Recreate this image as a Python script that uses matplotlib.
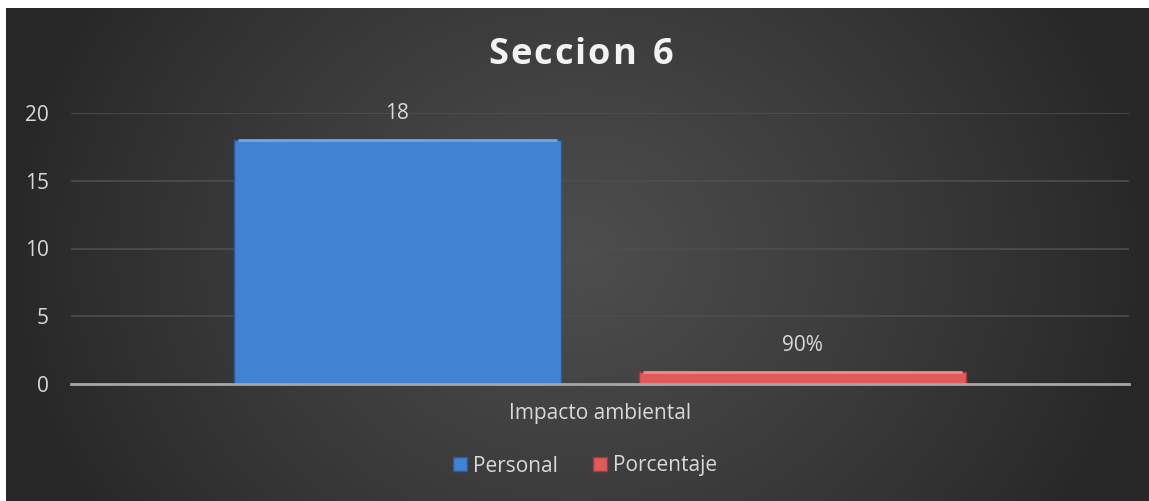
import matplotlib
matplotlib.use("Agg")
import matplotlib.pyplot as plt
import numpy as np

# datos del grafico
categorias = ["Impacto ambiental"]
series = ["Personal", "Porcentaje"]
personal = [18]
porcentaje = [0.9]
etiquetas_personal = ["18"]
etiquetas_porcentaje = ["90%"]
titulo = "Seccion 6"

plt.rcParams["font.family"] = ["Open Sans", "DejaVu Sans"]
TXT = "#d9d9d9"
FS = 15

fig = plt.figure(figsize=(11.49, 5.01), dpi=100, facecolor="white")

# fondo con degradado oscuro (centro mas claro)
bg = fig.add_axes([6 / 1149, 0, 1143 / 1149, 493 / 501])
xx, yy = np.meshgrid(np.linspace(-1, 1, 400), np.linspace(-1, 1, 200))
r = np.sqrt(xx ** 2 + (yy / 2.0) ** 2)
shade = np.clip(1 - r, 0, 1) ** 0.9
g = 0.155 + (0.305 - 0.155) * shade
bg.imshow(np.dstack([g, g, g]), aspect="auto", extent=[0, 1, 0, 1], interpolation="bilinear")
bg.axis("off")

ax = fig.add_axes([71 / 1149, (501 - 384) / 501, (1129 - 71) / 1149, (384 - 113) / 501])
ax.patch.set_alpha(0)

x = np.arange(len(categorias))
w = 0.309
off = 0.1915
b1 = ax.bar(x - off, personal, w, color="#4282d3", edgecolor="#2c5a96", linewidth=1.0,
            label=series[0], zorder=3)
b2 = ax.bar(x + off, porcentaje, w, color="#e05a5c", edgecolor="#a03a3c", linewidth=1.0,
            label=series[1], zorder=3)

# brillo superior de las barras
for bars, c in [(b1, "#6fa6ec"), (b2, "#f08a8a")]:
    for b in bars:
        ax.plot([b.get_x() + 0.004, b.get_x() + b.get_width() - 0.004],
                [b.get_height()] * 2, color=c, lw=2, zorder=4, solid_capstyle="butt")

for bars, labs in [(b1, etiquetas_personal), (b2, etiquetas_porcentaje)]:
    for b, t in zip(bars, labs):
        ax.annotate(t, (b.get_x() + b.get_width() / 2, b.get_height()),
                    xytext=(0, 19), textcoords="offset points", ha="center", va="center",
                    color=TXT, fontsize=FS)

ax.set_xlim(-0.5, 0.5)
ax.set_ylim(0, 20)
ax.set_yticks([0, 5, 10, 15, 20])
ax.set_xticks(x, categorias)
ax.tick_params(axis="y", length=0, pad=16, labelcolor=TXT, labelsize=FS)
ax.tick_params(axis="x", length=0, pad=14, labelcolor=TXT, labelsize=FS)
ax.grid(axis="y", color="#4e4e4e", lw=1.2, zorder=0)
for s in ["top", "right", "left"]:
    ax.spines[s].set_visible(False)
ax.spines["bottom"].set_color("#a6a6a6")
ax.spines["bottom"].set_linewidth(2)
ax.spines["bottom"].set_zorder(5)

# titulo con espaciado entre letras
renderer = fig.canvas.get_renderer()
props = dict(color="#f2f2f2", fontsize=26, fontweight="bold", va="center", ha="left")
espacio = 2.0
anchos = []
for ch in titulo:
    t = fig.text(0, 0, ch if ch != " " else "n", **props)
    anchos.append(t.get_window_extent(renderer).width * (0.55 if ch == " " else 1))
    t.remove()
total = sum(anchos) + espacio * (len(titulo) - 1)
x0 = 581 - total / 2
for ch, a in zip(titulo, anchos):
    if ch != " ":
        fig.text(x0 / 1149, 1 - 55 / 501, ch, **props)
    x0 += a + espacio

fig.legend(loc="center", bbox_to_anchor=(585 / 1149, 35 / 501), ncol=2, frameon=False,
           handlelength=0.65, handleheight=0.65, handletextpad=0.3, columnspacing=1.7,
           fontsize=FS, labelcolor=TXT)

fig.savefig("out.png", dpi=100, facecolor="white")
